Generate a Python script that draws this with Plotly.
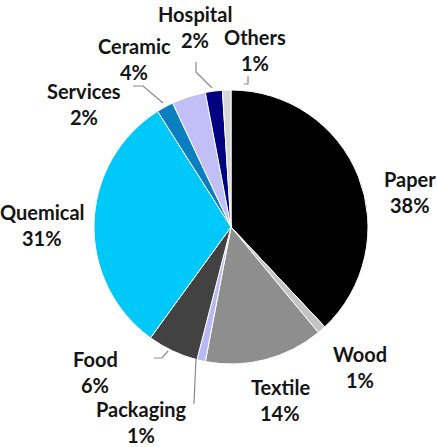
import plotly.graph_objects as go

labels = ["Paper", "Wood", "Textile", "Packaging", "Food", "Quemical",
          "Services", "Ceramic", "Hospital", "Others"]
values = [38, 1, 14, 1, 6, 31, 2, 4, 2, 1]
colors = ["#000000", "#c4c4c4", "#8e8e8e", "#b8b8f4", "#424242", "#00c8f8",
          "#0a7fc0", "#c0c0f6", "#000080", "#d6d6d6"]

W, H = 437, 447
# label text centres (pixels): name line; percent line sits below
label_pos = {
    "Hospital": (195, 14), "Others": (255, 37), "Ceramic": (134, 46),
    "Services": (84, 91), "Quemical": (42, 212), "Paper": (410, 179),
    "Wood": (360, 354), "Textile": (280, 387), "Packaging": (141, 409),
    "Food": (95, 359),
}
leaders = [
    [(133, 86), (143, 86), (163, 103)],
    [(196, 62), (196, 72), (212, 88)],
    [(248, 76), (248, 84), (244, 84)],
    [(154, 358), (162, 358), (168, 351)],
    [(193, 403), (194, 403), (196, 359)],
]

def px(x):
    return x / W

def py(y):
    return 1 - y / H

cx, cy, r = 231, 227, 137
fig = go.Figure(go.Pie(
    labels=labels, values=values, sort=False, direction="clockwise",
    rotation=0, textinfo="none", hoverinfo="label+percent",
    marker=dict(colors=colors, line=dict(color="white", width=1)),
    domain=dict(x=[px(cx - r), px(cx + r)], y=[py(cy + r), py(cy - r)]),
    showlegend=False,
))

font = dict(family="Lato, Open Sans, sans-serif", size=20, color="#151515")
ann = []
for lab, val in zip(labels, values):
    x, y = label_pos[lab]
    for txt, yy in ((lab, y), (f"{val}%", y + 26)):
        ann.append(dict(x=px(x), y=py(yy), xref="paper", yref="paper",
                        text=f"<b>{txt}</b>", showarrow=False,
                        xanchor="center", yanchor="middle", font=font))

shapes = []
for pts in leaders:
    path = "M " + " L ".join(f"{px(a)},{py(b)}" for a, b in pts)
    shapes.append(dict(type="path", xref="paper", yref="paper", path=path,
                       line=dict(color="#8a8a8a", width=1.2)))

fig.update_layout(width=W, height=H, margin=dict(l=0, r=0, t=0, b=0),
                  paper_bgcolor="white", plot_bgcolor="white",
                  annotations=ann, shapes=shapes)
fig.write_html("out.html")
